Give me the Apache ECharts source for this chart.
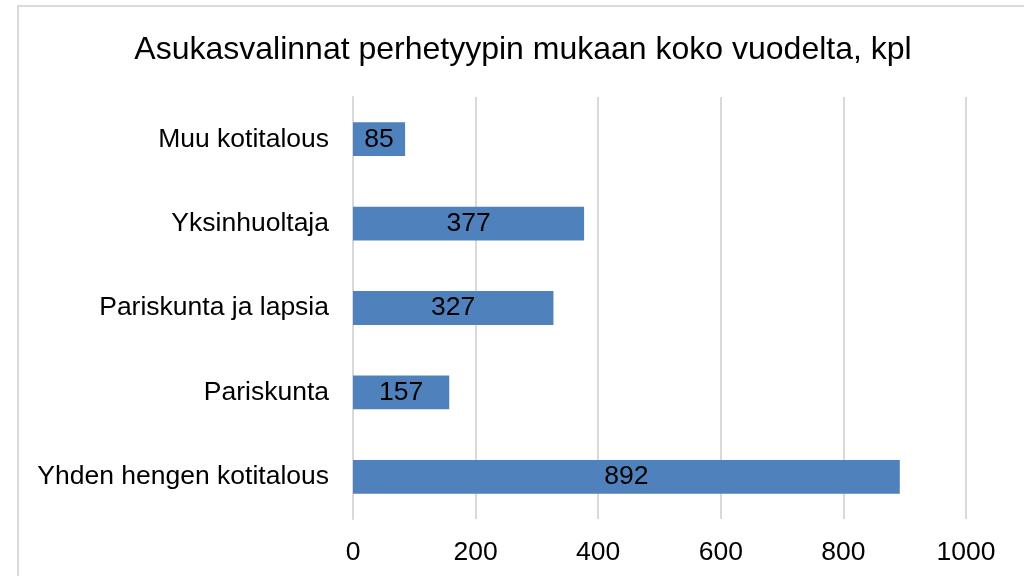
<!DOCTYPE html>
<html>
<head>
<meta charset="utf-8">
<script src="https://cdn.jsdelivr.net/npm/echarts@6/dist/echarts.min.js"></script>
<style>
html,body{margin:0;padding:0;background:#fff;}
#chart{width:1024px;height:576px;}
</style>
</head>
<body>
<div id="chart"></div>
<script>
const titleText = 'Asukasvalinnat perhetyypin mukaan koko vuodelta, kpl';
const categories = ['Yhden hengen kotitalous', 'Pariskunta', 'Pariskunta ja lapsia', 'Yksinhuoltaja', 'Muu kotitalous'];
const values = [892, 157, 327, 377, 85];
const xTicks = [0, 200, 400, 600, 800, 1000];

const chart = echarts.init(document.getElementById('chart'), null, {renderer: 'canvas'});
const font = 'Liberation Sans, Arial, sans-serif';
chart.setOption({
  animation: false,
  backgroundColor: '#ffffff',
  graphic: [{
    type: 'rect',
    shape: {x: 18, y: 6, width: 1100, height: 700},
    style: {fill: 'none', stroke: '#d9d9d9', lineWidth: 2},
    silent: true,
    z: -1
  }],
  title: {
    text: titleText,
    left: 518,
    textAlign: 'center',
    top: 29,
    textStyle: {fontFamily: font, fontSize: 32, fontWeight: 'normal', color: '#000'}
  },
  grid: {left: 353, right: 58, top: 97, bottom: 57, containLabel: false},
  xAxis: {
    type: 'value',
    min: xTicks[0],
    max: xTicks[xTicks.length - 1],
    interval: 200,
    axisLine: {show: false},
    axisTick: {show: false},
    splitLine: {show: true, lineStyle: {color: '#d9d9d9', width: 2}},
    axisLabel: {fontFamily: font, fontSize: 26.5, color: '#000', margin: 20, formatter: v => String(v)}
  },
  yAxis: {
    type: 'category',
    data: categories,
    axisLine: {show: true, lineStyle: {color: '#d9d9d9', width: 2}},
    axisTick: {show: false},
    axisLabel: {fontFamily: font, fontSize: 26.5, color: '#000', margin: 24}
  },
  series: [{
    type: 'bar',
    data: values,
    barWidth: '40%',
    itemStyle: {color: '#4f81bd'},
    label: {
      show: true,
      position: 'inside',
      fontFamily: font,
      fontSize: 26.5,
      color: '#000'
    }
  }]
});
</script>
</body>
</html>
